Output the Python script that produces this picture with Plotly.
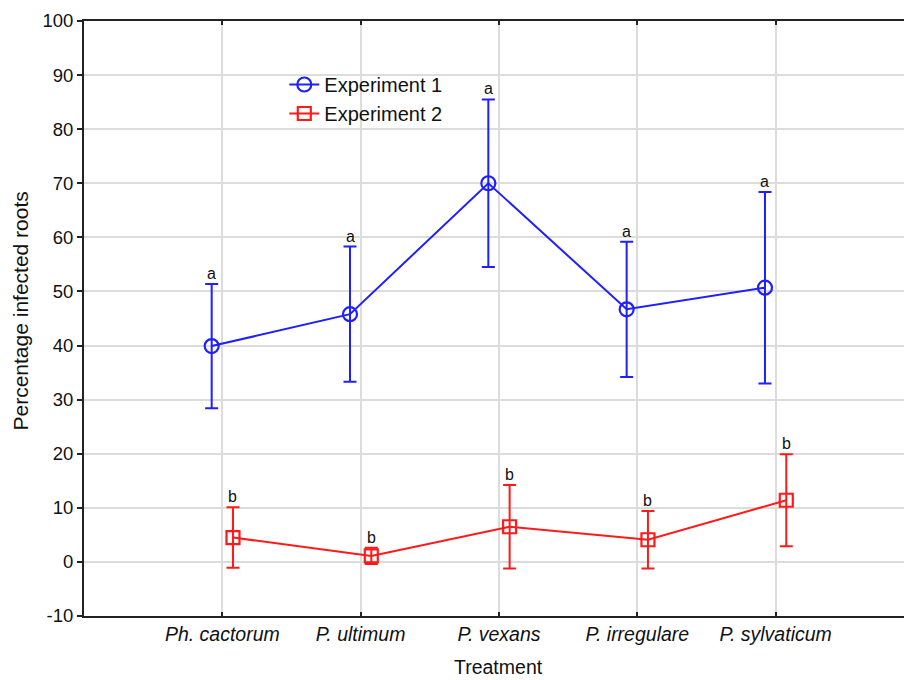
import plotly.graph_objects as go

categories = ["Ph. cactorum", "P. ultimum", "P. vexans", "P. irregulare", "P. sylvaticum"]
exp1_mean = [39.9, 45.8, 70.0, 46.7, 50.7]
exp1_err = [11.5, 12.5, 15.5, 12.5, 17.7]
exp2_mean = [4.5, 1.1, 6.5, 4.1, 11.4]
exp2_err = [5.6, 1.5, 7.7, 5.3, 8.5]
exp1_letters = ["a", "a", "a", "a", "a"]
exp2_letters = ["b", "b", "b", "b", "b"]
y_ticks = list(range(-10, 101, 10))
y_ticktext = [str(v) for v in y_ticks]

FONT = "Arial, Liberation Sans, sans-serif"
BLUE = "#1f1fff"
RED = "#ff1a1a"
off = 0.077
idx = list(range(len(categories)))
x1 = [i - off for i in idx]
x2 = [i + off for i in idx]

PX0, PY0 = 83.6, 21.0      # plot left/top in page px
PW, PH = 820.4, 594.8      # plot width/height
W, H = 904, 680


def px(xp):
    return (xp - PX0) / PW


def py(yp):
    return 1 - (yp - PY0) / PH


fig = go.Figure()
fig.add_trace(go.Scatter(
    x=x1, y=exp1_mean, mode="lines+markers", name="Experiment 1",
    line=dict(color=BLUE, width=2),
    marker=dict(symbol="circle-open", size=14, color=BLUE, line=dict(width=2.2)),
    error_y=dict(type="data", array=exp1_err, visible=True, color=BLUE, thickness=2, width=6.5),
))
fig.add_trace(go.Scatter(
    x=x2, y=exp2_mean, mode="lines+markers", name="Experiment 2",
    line=dict(color=RED, width=2),
    marker=dict(symbol="square-open", size=13, color=RED, line=dict(width=2.2)),
    error_y=dict(type="data", array=exp2_err, visible=True, color=RED, thickness=2, width=6.5),
))

ann = []
for xi, m, e, t in zip(x1, exp1_mean, exp1_err, exp1_letters):
    ann.append(dict(x=xi, y=m + e, text=t, showarrow=False, yanchor="bottom", yshift=0,
                    font=dict(family=FONT, size=16, color="#111")))
for xi, m, e, t in zip(x2, exp2_mean, exp2_err, exp2_letters):
    ann.append(dict(x=xi, y=m + e, text=t, showarrow=False, yanchor="bottom", yshift=0,
                    font=dict(family=FONT, size=16, color="#111")))
ann.append(dict(x=px(498), xref="paper", y=py(667), yref="paper",
                text="Treatment", showarrow=False, yanchor="middle", xanchor="center",
                font=dict(family=FONT, size=19.5, color="#111")))
ann.append(dict(x=px(20), xref="paper", y=py(311), yref="paper",
                text="Percentage infected roots", showarrow=False, textangle=-90,
                xanchor="center", yanchor="middle", font=dict(family=FONT, size=21, color="#111")))

fig.update_layout(
    width=W, height=H,
    margin=dict(l=PX0, r=W - PX0 - PW, t=PY0, b=H - PY0 - PH),
    paper_bgcolor="white", plot_bgcolor="white",
    font=dict(family=FONT, size=18, color="#111"),
    showlegend=True,
    legend=dict(x=px(284), y=py(65), xanchor="left", yanchor="top",
                bgcolor="rgba(0,0,0,0)", font=dict(family=FONT, size=20, color="#111"),
                tracegroupgap=0, itemwidth=30),
    annotations=ann,
)
fig.update_xaxes(
    range=[-1, 4.928], tickvals=idx, ticktext=[f"<i>{c}</i>" for c in categories],
    showgrid=True, gridcolor="#dcdcdc", gridwidth=1.5,
    showline=True, linecolor="#222", linewidth=2, mirror="ticks",
    ticks="inside", ticklen=4, tickcolor="#222", tickwidth=2,
    tickfont=dict(family=FONT, size=19.5, color="#111"), zeroline=False,
)
fig.update_yaxes(
    range=[-10, 100], tickvals=y_ticks, ticktext=y_ticktext,
    showgrid=True, gridcolor="#dcdcdc", gridwidth=1.5,
    showline=True, linecolor="#222", linewidth=2,
    ticks="outside", ticklen=5, tickcolor="#222", tickwidth=1.5,
    tickfont=dict(family=FONT, size=18.5, color="#111"), zeroline=False,
)
fig.write_html(
    "out.html",
    config={"displayModeBar": False},
    post_script="document.body.style.margin='0';document.body.style.overflow='hidden';",
)
